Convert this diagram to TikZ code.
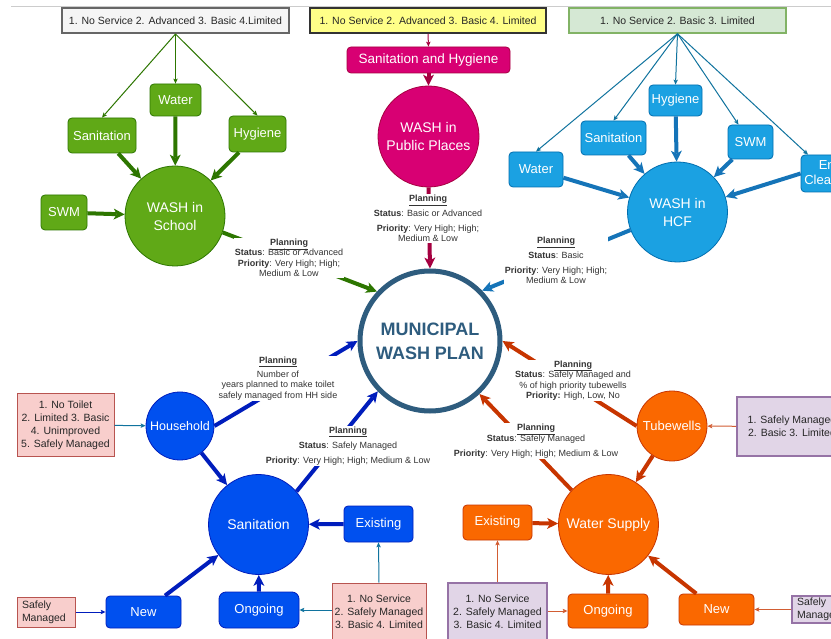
\documentclass[tikz,border=0pt]{standalone}
\usepackage{fontspec}
\setmainfont{Liberation Sans}
\usetikzlibrary{arrows.meta}
\definecolor{cgreen}{HTML}{60A917}
\definecolor{cgreenline}{HTML}{2D7600}
\definecolor{cmag}{HTML}{D80073}
\definecolor{cmagline}{HTML}{A50040}
\definecolor{cblue}{HTML}{1BA1E2}
\definecolor{cblueline}{HTML}{006EAF}
\definecolor{cbluearrow}{HTML}{1574B8}
\definecolor{cdblue}{HTML}{0050EF}
\definecolor{cdblueline}{HTML}{001DBC}
\definecolor{corange}{HTML}{FA6800}
\definecolor{corangeline}{HTML}{C73500}
\definecolor{cpink}{HTML}{F8CECC}
\definecolor{cpinkline}{HTML}{B85450}
\definecolor{cpur}{HTML}{E1D5E7}
\definecolor{cpurline}{HTML}{9673A6}
\definecolor{cmuni}{HTML}{2E5C7E}
\definecolor{cteal}{HTML}{10739E}
\definecolor{cgreyfill}{HTML}{F5F5F5}
\definecolor{cgreyline}{HTML}{666666}
\definecolor{cyel}{HTML}{FFFF88}
\definecolor{cyelline}{HTML}{333333}
\definecolor{clgreen}{HTML}{D5E8D4}
\definecolor{clgreenline}{HTML}{82B366}
\newcommand\plan{\underline{\textbf{Planning}}}
\tikzset{
  topbox/.style={minimum height=25pt, inner sep=0pt, font=\fontsize{10.5}{12}\selectfont, text=black!85},
  box/.style={rounded corners=4pt, inner sep=0pt, text=white, font=\fontsize{13}{15}\selectfont, line width=0.8pt},
  circ/.style={circle, inner sep=0pt, text=white, align=center, font=\fontsize{14}{18}\selectfont, line width=0.8pt},
  gbox/.style={box, fill=cgreen, draw=cgreenline},
  gcirc/.style={circ, fill=cgreen, draw=cgreenline},
  bbox/.style={box, fill=cblue, draw=cblueline},
  bcirc/.style={circ, fill=cblue, draw=cblueline},
  dbox/.style={box, fill=cdblue, draw=cdblueline},
  dcirc/.style={circ, fill=cdblue, draw=cdblueline},
  obox/.style={box, fill=corange, draw=corangeline},
  ocirc/.style={circ, fill=corange, draw=corangeline},
  pinkbox/.style={fill=cpink, draw=cpinkline, line width=1pt, inner sep=0pt, align=center, font=\fontsize{10.5}{13}\selectfont, text=black!85},
  purbox/.style={fill=cpur, draw=cpurline, line width=1.6pt, inner sep=0pt, align=center, font=\fontsize{10.5}{13}\selectfont, text=black!85},
  th/.style={line width=4pt, -{Stealth[length=11pt,width=11pt,inset=3pt,line width=0pt]}},
  tn/.style={line width=1pt, -{Stealth[length=5pt,width=4.5pt,inset=1pt,line width=0pt]}},
  lbl/.style={fill=white, inner sep=1pt, align=center, font=\fontsize{9}{10.5}\selectfont, text=black!80},
}
\begin{document}
\begin{tikzpicture}[x=1pt,y=-1pt]
\useasboundingbox (0,0) rectangle (831,639);
\fill[white] (0,0) rectangle (831,639);
\begin{scope}
\clip (0,0) rectangle (831,639);
\draw[black!20, line width=0.8pt] (11,6) -- (831,6);

% top boxes
\node[topbox, fill=cgreyfill, draw=cgreyline, line width=2pt, minimum width=227pt] (tg) at (175.5,20.5) {1. No Service 2. Advanced 3. Basic 4.Limited};
\node[topbox, fill=cyel, draw=cyelline, line width=2pt, minimum width=236pt] (ty) at (428,20.5) {1. No Service 2. Advanced 3. Basic 4. Limited};
\node[topbox, fill=clgreen, draw=clgreenline, line width=1.5pt, minimum width=217pt] (tgr) at (677.5,20.5) {1. No Service 2. Basic 3. Limited};

% school
\node[gbox, minimum width=51pt, minimum height=32pt] (sw) at (175.5,100) {Water};
\node[gbox, minimum width=68pt, minimum height=35pt] (ss) at (102,135.5) {Sanitation};
\node[gbox, minimum width=57pt, minimum height=36pt] (sh) at (257.5,134) {Hygiene};
\node[gbox, minimum width=46pt, minimum height=35pt] (ssw) at (64,212.5) {SWM};
\node[gcirc, minimum size=100pt] (school) at (175,216) {WASH in\\School};

% public places
\node[box, fill=cmag, draw=cmagline, minimum width=163pt, minimum height=26pt, font=\fontsize{13.5}{15}\selectfont] (sah) at (428.5,60) {Sanitation and Hygiene};
\node[circ, fill=cmag, draw=cmagline, minimum size=101pt] (pub) at (428.5,136.5) {WASH in\\Public Places};

% HCF
\node[bbox, minimum width=53pt, minimum height=31pt] (hhy) at (675.5,100.5) {Hygiene};
\node[bbox, minimum width=65pt, minimum height=34pt] (hs) at (613.5,138) {Sanitation};
\node[bbox, minimum width=45pt, minimum height=34pt] (hswm) at (750.5,142) {SWM};
\node[bbox, minimum width=54pt, minimum height=35pt] (hw) at (536,169.5) {Water};
\node[bbox, minimum width=58pt, minimum height=37pt, align=center] (henv) at (830,173.5) {Env\\Cleaning};
\node[bcirc, minimum size=100pt] (hcf) at (677.5,212) {WASH in\\HCF};

% municipal
\node[circle, draw=cmuni, line width=5pt, minimum size=140pt, inner sep=0pt, align=center, text=cmuni, font=\fontsize{18}{24}\selectfont\bfseries] (muni) at (430,341) {MUNICIPAL\\WASH PLAN};

% sanitation
\node[dcirc, minimum size=68pt, font=\fontsize{12.5}{15}\selectfont] (hh) at (180,426) {Household};
\node[pinkbox, minimum width=97pt, minimum height=62pt] (pk1) at (65.5,425) {1. No Toilet\\2. Limited 3. Basic\\4. Unimproved\\5. Safely Managed};
\node[dcirc, minimum size=100pt] (sc) at (258.5,524.5) {Sanitation};
\node[dbox, minimum width=69pt, minimum height=36pt] (sex) at (378.5,524) {Existing};
\node[pinkbox, minimum width=94pt, minimum height=58pt] (pk2) at (379,612) {1. No Service\\2. Safely Managed\\3. Basic 4. Limited};
\node[dbox, minimum width=80pt, minimum height=36pt, rounded corners=7pt] (sog) at (259,610) {Ongoing};
\node[dbox, minimum width=75pt, minimum height=32pt] (snew) at (143.5,612) {New};
\node[pinkbox, align=left, text width=48pt, inner xsep=5pt, minimum height=30pt] (pk3) at (46,612) {Safely\\Managed};

% water supply
\node[ocirc, minimum size=70pt, font=\fontsize{13}{15}\selectfont] (tw) at (672,426) {Tubewells};
\node[purbox, minimum width=110pt, minimum height=59pt] (pu1) at (792,426.5) {1. Safely Managed\\2. Basic 3. Limited};
\node[ocirc, minimum size=100pt] (ws) at (608.5,524.5) {Water Supply};
\node[obox, minimum width=69pt, minimum height=35pt] (wex) at (497.5,522.5) {Existing};
\node[purbox, minimum width=99pt, minimum height=58pt] (pu2) at (497.5,612) {1. No Service\\2. Safely Managed\\3. Basic 4. Limited};
\node[obox, minimum width=80pt, minimum height=34pt] (wog) at (608,611) {Ongoing};
\node[obox, minimum width=75pt, minimum height=31pt] (wnew) at (716.5,609.5) {New};
\node[purbox, align=left, text width=50pt, inner xsep=5pt, minimum height=27pt] (pu3) at (822,609.5) {Safely\\Managed};

% edges: school
\draw[tn, cgreenline] (tg.south) -- (sw.north);
\draw[tn, cgreenline] (tg.south) -- (ss.north);
\draw[tn, cgreenline] (tg.south) -- (sh.north);
\draw[th, cgreenline] (ss) -- (school);
\draw[th, cgreenline] (sw) -- (school);
\draw[th, cgreenline] (sh) -- (school);
\draw[th, cgreenline] (ssw) -- (school);
\draw[th, cgreenline] (school.-19) -- (muni.137);

% edges: public places
\draw[tn, cmagline] (ty.south) -- (sah.north);
\draw[th, cmagline] (sah) -- (pub);
\draw[th, cmagline] (pub.south) -- (muni.north);

% edges: HCF
\draw[tn, cteal] (tgr.south) -- (hw.north);
\draw[tn, cteal] (tgr.south) -- (hs.north);
\draw[tn, cteal] (tgr.south) -- (hhy.north);
\draw[tn, cteal] (tgr.south) -- ([xshift=-12pt]hswm.north);
\draw[tn, cteal] (tgr.south) -- ([xshift=-22pt]henv.north);
\draw[th, cbluearrow] (hw) -- (hcf);
\draw[th, cbluearrow] (hs) -- (hcf);
\draw[th, cbluearrow] (hhy) -- (hcf);
\draw[th, cbluearrow] (hswm) -- (hcf);
\draw[th, cbluearrow] (henv.west) -- (hcf);
\draw[th, cbluearrow] (hcf.201) -- (muni.44);

% edges: sanitation
\draw[tn, cteal] (pk1) -- (hh);
\draw[th, cdblueline] (hh) -- (sc);
\draw[th, cdblueline] (hh.east) -- (muni.west);
\draw[th, cdblueline] (sc.41) -- (muni.224);
\draw[th, cdblueline] (sex) -- (sc);
\draw[th, cdblueline] (sog) -- (sc);
\draw[th, cdblueline] (snew) -- (sc);
\draw[tn, cteal] (pk2.north) -- (sex.south);
\draw[tn, cteal] (pk2.west |- sog) -- (sog.east);
\draw[tn, cdblueline] (pk3) -- (snew);

% edges: water supply
\draw[tn, corangeline!80] (pu1) -- (tw);
\draw[th, corangeline] (tw) -- (ws);
\draw[th, corangeline] (tw.west) -- (muni.east);
\draw[th, corangeline] (ws.137) -- (muni.-47);
\draw[th, corangeline] (wex) -- (ws);
\draw[th, corangeline] (wog) -- (ws);
\draw[th, corangeline] (wnew) -- (ws);
\draw[tn, corangeline!80] (pu2.north) -- (wex.south);
\draw[tn, corangeline!80] (pu2.east |- wog) -- (wog.west);
\draw[tn, corangeline!80] (pu3) -- (wnew);

% labels
\node[lbl] (l1) at (289,258) {\plan\\\textbf{Status}: Basic or Advanced\\\textbf{Priority}: Very High; High;\\Medium \& Low};
\node[lbl] (l2) at (428,218.5) {\plan\\[4.5pt]\textbf{Status}: Basic or Advanced\\[4.5pt]\textbf{Priority}: Very High; High;\\Medium \& Low};
\node[lbl] (l3) at (556,260.5) {\plan\\[4.5pt]\textbf{Status}: Basic\\[4.5pt]\textbf{Priority}: Very High; High;\\Medium \& Low};
\node[lbl] (l4) at (278,378.5) {\plan\\[3.5pt]Number of\\years planned to make toilet\\safely managed from HH side};
\node[lbl] (l5) at (348,446) {\plan\\[4.5pt]\textbf{Status}: Safely Managed\\[4.5pt]\textbf{Priority}: Very High; High; Medium \& Low};
\node[lbl] (l6) at (573,380.5) {\plan\\\textbf{Status}: Safely Managed and\\\% of high priority tubewells\\\textbf{Priority:} High, Low, No};
\node[lbl] (l7) at (536,441) {\plan\\\textbf{Status}: Safely Managed\\[4.5pt]\textbf{Priority}: Very High; High; Medium \& Low};
\end{scope}
\end{tikzpicture}
\end{document}
